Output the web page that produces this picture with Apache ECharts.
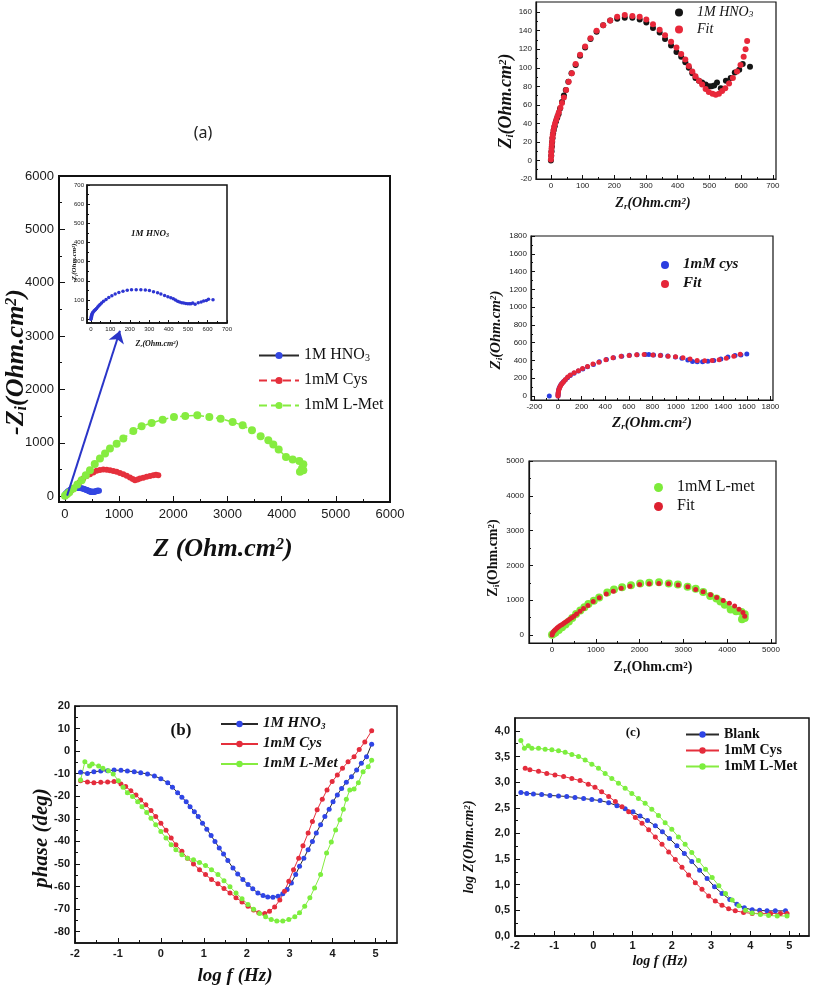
<!DOCTYPE html>
<html><head><meta charset="utf-8">
<script src="https://cdn.jsdelivr.net/npm/echarts@6/dist/echarts.min.js"></script>
<style>html,body{margin:0;padding:0;background:#fff}#c{width:813px;height:990px}</style>
</head><body><div id="c"></div>
<script>
const FS = "'Liberation Serif','Times New Roman',serif";
const FA = "'Liberation Sans',Arial,sans-serif";

// ---------------- data ----------------
const hno3Data = [[0,0],[1,5],[2,10],[3,15],[4,20],[5,24],[7,29],[9,33],[12,37],[16,42],[20,46],[24,50],[29,56],[35,63],[41,70],[47,76],[55,85],[65,94],[78,103],[92,113],[108,122],[125,131],[144,139],[165,146],[187,151],[209,153],[233,154],[257,154],[280,152],[301,149],[322,143],[343,138],[360,131],[379,124],[396,117],[411,112],[424,106],[435,100],[446,94],[456,89],[467,86],[477,84],[488,82],[498,80],[507,80],[515,81],[524,84],[536,78],[552,86],[567,89],[580,95],[594,98],[605,104],[628,101]];
const hno3Fit = [[0,1],[1,5],[1,9],[2,13],[3,17],[4,21],[5,25],[6,28],[8,32],[10,36],[13,40],[17,44],[21,48],[25,52],[30,57],[35,62],[41,68],[48,76],[56,85],[66,94],[78,104],[92,114],[108,123],[125,132],[144,140],[165,146],[187,151],[209,155],[233,157],[257,156],[280,155],[301,152],[322,147],[343,141],[360,135],[379,128],[396,122],[411,115],[424,109],[435,102],[446,96],[456,91],[467,86],[477,82],[488,77],[498,74],[510,72],[520,71],[530,72],[540,75],[550,78],[562,83],[574,89],[587,96],[598,103],[608,112],[614,120],[619,129]];
const cysMain = [[0,0],[30,20],[60,50],[90,80],[123,112],[160,150],[215,206],[270,260],[338,330],[400,375],[462,411],[525,445],[585,474],[645,490],[708,498],[770,495],[831,486],[893,472],[954,455],[1015,435],[1077,411],[1140,380],[1200,349],[1250,322],[1292,299],[1340,310],[1385,330],[1445,345],[1508,361],[1570,377],[1631,393],[1680,400],[1723,393]];
const cysData = [[-74,0],[0,0],[1,20],[2,40],[4,60],[8,82],[14,100],[22,120],[32,140],[45,160],[60,180],[80,205],[103,230],[135,255],[172,280],[210,305],[250,330],[300,355],[350,385],[410,410],[470,430],[540,448],[605,458],[670,465],[740,468],[770,466],[810,462],[870,458],[930,450],[995,438],[1050,425],[1100,405],[1140,388],[1180,385],[1225,385],[1270,390],[1320,398],[1380,415],[1440,440],[1500,455],[1550,462],[1600,472]];
const cysFit = [[0,0],[0,15],[1,30],[3,45],[5,60],[8,75],[12,90],[17,105],[23,120],[30,135],[40,150],[50,165],[63,187],[82,213],[104,235],[137,262],[173,284],[208,310],[250,333],[296,359],[346,381],[406,407],[466,430],[535,448],[603,456],[667,463],[730,467],[804,460],[867,456],[933,448],[996,441],[1059,430],[1119,415],[1179,400],[1243,396],[1306,400],[1366,407],[1426,426],[1490,448],[1544,471]];
const lmetData = [[0,6],[40,40],[80,75],[154,143],[230,220],[308,299],[385,390],[462,486],[550,600],[646,704],[740,800],[831,891],[954,984],[1077,1078],[1262,1221],[1415,1309],[1600,1371],[1803,1433],[2012,1483],[2221,1502],[2443,1514],[2665,1483],[2874,1452],[3095,1389],[3280,1327],[3452,1234],[3612,1122],[3754,1047],[3846,966],[3945,872],[4080,735],[4203,685],[4326,660],[4400,598],[4375,517],[4338,455],[4400,486]];
const lmetFit = [[0,0],[10,40],[25,80],[50,120],[80,160],[115,200],[150,235],[190,270],[230,305],[270,340],[310,375],[355,410],[400,450],[450,495],[500,540],[560,600],[640,680],[720,760],[820,850],[940,960],[1080,1070],[1240,1180],[1400,1260],[1580,1340],[1780,1400],[2000,1450],[2220,1470],[2440,1480],[2660,1470],[2880,1440],[3100,1390],[3280,1310],[3450,1240],[3620,1160],[3760,1080],[3910,990],[4050,910],[4170,830],[4270,740],[4360,650],[4400,540]];

const phaseHNO3 = [[-1.87,-9.4],[-1.71,-9.9],[-1.56,-9.1],[-1.40,-8.8],[-1.24,-8.7],[-1.09,-8.4],[-0.93,-8.5],[-0.78,-8.8],[-0.62,-9.1],[-0.47,-9.6],[-0.31,-10.1],[-0.15,-11.0],[0.0,-12.2],[0.16,-14.0],[0.27,-16.0],[0.39,-18.4],[0.49,-20.4],[0.59,-22.4],[0.68,-24.6],[0.78,-26.8],[0.87,-29.0],[0.97,-31.9],[1.07,-34.6],[1.17,-37.4],[1.26,-40.0],[1.36,-42.9],[1.46,-45.6],[1.56,-48.5],[1.68,-51.8],[1.79,-54.4],[1.91,-56.9],[2.03,-59.1],[2.14,-61.0],[2.26,-62.8],[2.38,-64.0],[2.49,-64.6],[2.61,-64.7],[2.73,-64.3],[2.84,-63.2],[2.94,-61.3],[3.04,-58.4],[3.14,-54.7],[3.23,-51.0],[3.33,-47.4],[3.43,-43.7],[3.53,-40.0],[3.62,-36.3],[3.72,-32.6],[3.82,-29.0],[3.92,-25.7],[4.01,-22.4],[4.11,-19.4],[4.21,-16.5],[4.32,-13.8],[4.44,-11.3],[4.56,-8.4],[4.67,-5.4],[4.79,-2.5],[4.91,3.1]];
const phaseCys = [[-1.87,-13.1],[-1.71,-13.7],[-1.56,-14.0],[-1.40,-13.8],[-1.24,-13.7],[-1.09,-13.5],[-0.93,-14.6],[-0.82,-15.7],[-0.70,-17.5],[-0.58,-19.4],[-0.47,-21.6],[-0.35,-23.8],[-0.23,-26.3],[-0.12,-29.0],[0.0,-31.9],[0.12,-35.1],[0.24,-38.5],[0.35,-41.5],[0.49,-44.4],[0.62,-47.4],[0.76,-50.0],[0.90,-52.5],[1.04,-54.7],[1.18,-56.9],[1.33,-58.8],[1.47,-60.9],[1.61,-62.8],[1.75,-64.9],[1.89,-66.8],[2.03,-68.7],[2.16,-70.4],[2.28,-71.6],[2.42,-71.9],[2.53,-70.9],[2.65,-69.0],[2.77,-66.0],[2.88,-62.1],[2.98,-57.6],[3.09,-52.5],[3.21,-47.4],[3.31,-41.9],[3.43,-36.3],[3.53,-31.2],[3.64,-26.0],[3.76,-21.3],[3.87,-17.2],[3.99,-13.5],[4.11,-10.6],[4.23,-7.6],[4.36,-4.7],[4.50,-2.5],[4.62,0.7],[4.75,4.1],[4.91,9.0]];
const phaseLMet = [[-1.87,-12.8],[-1.77,-4.7],[-1.66,-6.6],[-1.60,-5.7],[-1.45,-6.6],[-1.35,-7.6],[-1.22,-8.7],[-1.11,-10.1],[-0.99,-13.1],[-0.88,-16.0],[-0.78,-18.4],[-0.66,-20.1],[-0.54,-22.4],[-0.44,-24.6],[-0.33,-27.2],[-0.23,-29.7],[-0.12,-32.6],[0.0,-35.6],[0.12,-38.5],[0.24,-41.5],[0.35,-43.7],[0.49,-45.9],[0.62,-47.4],[0.76,-48.1],[0.90,-49.3],[1.04,-50.7],[1.18,-52.5],[1.33,-54.7],[1.47,-57.4],[1.61,-60.1],[1.75,-62.8],[1.89,-65.4],[2.03,-67.9],[2.16,-70.1],[2.30,-71.9],[2.44,-73.4],[2.57,-74.6],[2.70,-75.3],[2.84,-75.3],[2.98,-74.6],[3.12,-73.4],[3.23,-71.6],[3.35,-68.7],[3.47,-65.0],[3.58,-60.6],[3.72,-54.7],[3.86,-45.1],[3.97,-40.3],[4.07,-34.9],[4.17,-30.4],[4.25,-25.7],[4.32,-21.3],[4.40,-17.2],[4.50,-16.8],[4.60,-14.0],[4.71,-9.1],[4.83,-6.9],[4.91,-4.0]];

const logzBlank = [[-1.85,2.80],[-1.70,2.78],[-1.53,2.77],[-1.32,2.76],[-1.11,2.74],[-0.89,2.73],[-0.68,2.72],[-0.47,2.70],[-0.25,2.68],[-0.04,2.66],[0.17,2.64],[0.39,2.60],[0.60,2.54],[0.81,2.48],[1.01,2.42],[1.19,2.34],[1.38,2.25],[1.58,2.15],[1.76,2.03],[1.94,1.90],[2.13,1.76],[2.32,1.61],[2.51,1.45],[2.71,1.28],[2.90,1.12],[3.09,0.96],[3.28,0.83],[3.48,0.71],[3.66,0.62],[3.85,0.55],[4.05,0.51],[4.24,0.50],[4.43,0.49],[4.64,0.49],[4.90,0.49]];
const logzCys = [[-1.74,3.27],[-1.62,3.24],[-1.40,3.21],[-1.19,3.17],[-0.98,3.14],[-0.76,3.11],[-0.55,3.07],[-0.34,3.03],[-0.13,2.96],[0.04,2.90],[0.21,2.81],[0.39,2.72],[0.56,2.62],[0.73,2.52],[0.90,2.42],[1.07,2.31],[1.24,2.20],[1.41,2.07],[1.58,1.93],[1.75,1.79],[1.92,1.64],[2.09,1.49],[2.26,1.34],[2.43,1.19],[2.60,1.04],[2.77,0.91],[2.94,0.78],[3.11,0.68],[3.28,0.60],[3.45,0.53],[3.62,0.49],[3.83,0.46],[4.05,0.44],[4.26,0.44],[4.52,0.44],[4.77,0.44],[4.94,0.44]];
const logzLMet = [[-1.85,3.81],[-1.76,3.66],[-1.66,3.71],[-1.57,3.66],[-1.40,3.66],[-1.23,3.64],[-1.06,3.63],[-0.89,3.61],[-0.72,3.58],[-0.55,3.54],[-0.38,3.50],[-0.21,3.43],[-0.04,3.35],[0.13,3.27],[0.30,3.17],[0.47,3.07],[0.64,2.98],[0.81,2.88],[0.98,2.78],[1.15,2.68],[1.32,2.59],[1.49,2.47],[1.66,2.35],[1.83,2.21],[2.00,2.08],[2.17,1.93],[2.34,1.79],[2.51,1.63],[2.68,1.47],[2.86,1.30],[3.03,1.14],[3.20,0.98],[3.37,0.83],[3.54,0.70],[3.71,0.59],[3.88,0.50],[4.05,0.45],[4.26,0.42],[4.47,0.40],[4.69,0.39],[4.94,0.39]];

// ---------------- tick labels ----------------
const mainTicks = [0,1000,2000,3000,4000,5000,6000];
const insetTicks = [0,100,200,300,400,500,600,700];
const trXTicks = [0,100,200,300,400,500,600,700];
const trYTicks = [-20,0,20,40,60,80,100,120,140,160];
const mrXTicks = [-200,0,200,400,600,800,1000,1200,1400,1600,1800];
const mrYTicks = [0,200,400,600,800,1000,1200,1400,1600,1800];
const brTicks = [0,1000,2000,3000,4000,5000];
const logfTicks = [-2,-1,0,1,2,3,4,5];
const phaseTicks = [-80,-70,-60,-50,-40,-30,-20,-10,0,10,20];
const logzTicks = [0,0.5,1,1.5,2,2.5,3,3.5,4];

// ---------------- helpers ----------------
function mids(t){ const r=[]; for(let i=0;i<t.length-1;i++) r.push((t[i]+t[i+1])/2); return r; }
function rich(s, w, st){
  const base = {fontFamily:FS, fontSize:s, fontWeight:w, fontStyle:st, color:'#111', fill:'#111'};
  return {
    n: Object.assign({}, base, {lineHeight:s, padding:[Math.round(s*0.2),0,Math.round(s*0.25),0]}),
    sb: Object.assign({}, base, {fontSize:Math.round(s*0.62), lineHeight:Math.round(s*0.6), verticalAlign:'bottom'}),
    sp: Object.assign({}, base, {fontSize:Math.round(s*0.62), lineHeight:Math.round(s*0.6), verticalAlign:'top'}),
    g: {width: 9}
  };
}
const xAxes=[], yAxes=[];
function addAxis(list, grid, pos, c){
  const common = {type:'value', gridIndex:grid, position:pos, min:c.min, max:c.max,
    splitLine:{show:false}, axisPointer:{show:false}, silent:true};
  list.push(Object.assign({}, common, {
    axisLine:{show:true, onZero:false, lineStyle:{color:'#111', width:c.lw}},
    axisTick:{show:true, inside:true, length:c.tl, customValues:c.ticks, lineStyle:{color:'#111', width:1}},
    axisLabel:{show:true, customValues:c.ticks, margin:c.margin, fontSize:c.fs, fontFamily:FA,
      fontWeight:c.fw||'normal', color:'#1a1a1a', formatter:c.fmt||(v=>String(v))}
  }));
  list.push(Object.assign({}, common, {
    axisLine:{show:false, onZero:false},
    axisTick:{show:true, inside:true, length:Math.max(2,Math.round(c.tl*0.55)), customValues:c.minor, lineStyle:{color:'#111', width:1}},
    axisLabel:{show:false}
  }));
}
const grids = [
  {left:59, top:176, width:331, height:326, borderWidth:2},
  {left:87, top:185, width:140, height:138, borderWidth:1.5},
  {left:536, top:2, width:240, height:177, borderWidth:1.2},
  {left:531, top:236, width:242, height:164, borderWidth:1.2},
  {left:529, top:461, width:247, height:182, borderWidth:1.2},
  {left:75, top:706, width:322, height:237, borderWidth:1.5},
  {left:515, top:718, width:294, height:218, borderWidth:1.5}
].map(g => Object.assign({show:true, borderColor:'#111', backgroundColor:'#fff', containLabel:false, outerBoundsMode:'none'}, g));

// main
addAxis(xAxes,0,'bottom',{min:-110,max:6000,ticks:mainTicks,minor:mids(mainTicks),lw:2,tl:6,margin:6,fs:13});
addAxis(yAxes,0,'left',{min:-110,max:6000,ticks:mainTicks,minor:mids(mainTicks),lw:2,tl:6,margin:5,fs:13});
// inset
addAxis(xAxes,1,'bottom',{min:-20,max:700,ticks:insetTicks,minor:mids(insetTicks),lw:1.5,tl:3,margin:3,fs:6});
addAxis(yAxes,1,'left',{min:-20,max:700,ticks:insetTicks,minor:mids(insetTicks),lw:1.5,tl:3,margin:3,fs:6});
// top right
addAxis(xAxes,2,'bottom',{min:-47,max:710,ticks:trXTicks,minor:mids(trXTicks),lw:1.2,tl:4,margin:3,fs:8});
addAxis(yAxes,2,'left',{min:-20,max:171,ticks:trYTicks,minor:mids(trYTicks),lw:1.2,tl:4,margin:4,fs:8});
// middle right
addAxis(xAxes,3,'bottom',{min:-229,max:1822,ticks:mrXTicks,minor:mids(mrXTicks),lw:1.2,tl:4,margin:3,fs:8});
addAxis(yAxes,3,'left',{min:-45,max:1800,ticks:mrYTicks,minor:mids(mrYTicks),lw:1.2,tl:4,margin:4,fs:8});
// bottom right
addAxis(xAxes,4,'bottom',{min:-525,max:5114,ticks:brTicks,minor:mids(brTicks),lw:1.2,tl:4,margin:3,fs:8});
addAxis(yAxes,4,'left',{min:-230,max:5000,ticks:brTicks,minor:mids(brTicks),lw:1.2,tl:4,margin:5,fs:8});
// phase
addAxis(xAxes,5,'bottom',{min:-2,max:5.5,ticks:logfTicks,minor:mids(logfTicks).concat([5.25]),lw:1.5,tl:5,margin:5,fs:11,fw:'bold'});
addAxis(yAxes,5,'left',{min:-85,max:20,ticks:phaseTicks,minor:mids(phaseTicks),lw:1.5,tl:5,margin:5,fs:11,fw:'bold'});
// log Z
addAxis(xAxes,6,'bottom',{min:-2,max:5.5,ticks:logfTicks,minor:mids(logfTicks).concat([5.25]),lw:1.5,tl:5,margin:4,fs:11,fw:'bold'});
addAxis(yAxes,6,'left',{min:0,max:4.25,ticks:logzTicks,minor:mids(logzTicks),lw:1.5,tl:5,margin:5,fs:11,fw:'bold',
  fmt:v=>v.toFixed(1).replace('.',',')});

const BLUE='#3447e2', RED='#e5303c', GREEN='#86ec40', BLACK='#151515', DARK='#2a2a2a';
function A(g){ return {xAxisIndex:2*g, yAxisIndex:2*g}; }
function lineS(name,g,data,color,lineColor,size,ltype,lw){
  return Object.assign({name, type:'line', data, symbol:'circle', symbolSize:size, showSymbol:true,
    itemStyle:{color}, lineStyle:{color:lineColor, width:lw||1, type:ltype||'solid'}, z:3}, A(g));
}
function scat(name,g,data,color,size){
  return Object.assign({name, type:'scatter', data, symbol:'circle', symbolSize:size, itemStyle:{color, opacity:1}, z:3}, A(g));
}
const series = [
  Object.assign(lineS('mHNO3',0,hno3Data,BLUE,DARK,6,'solid',1), {
    markLine:{silent:true, symbol:['none','arrow'], symbolSize:12, animation:false,
      lineStyle:{color:'#2a35c8', width:2, type:'solid'}, label:{show:false},
      data:[[{coord:[40,10]},{coord:[1015,3100]}]]}}),
  lineS('mCys',0,cysMain,RED,RED,6,'dashed',1.2),
  lineS('mLMet',0,lmetData,GREEN,GREEN,8,'dashed',1.5),
  scat('iHNO3',1,hno3Data,'#2d35d2',3.5),
  scat('tHNO3',2,hno3Data,BLACK,6),
  scat('tFit',2,hno3Fit,'#e8283a',6),
  scat('cCys',3,cysData,'#2b3de0',5),
  scat('cFit',3,cysFit,'#e5263a',5),
  scat('lLMet',4,lmetData,'#7deb3a',8),
  scat('lFit',4,lmetFit,'#dd2030',5),
  lineS('pH',5,phaseHNO3,'#2f45e6',DARK,5),
  lineS('pC',5,phaseCys,'#e42c3c',RED,5),
  lineS('pL',5,phaseLMet,'#7cee3e',GREEN,5),
  lineS('zB',6,logzBlank,'#2f45e6',DARK,5),
  lineS('zC',6,logzCys,'#e42c3c',RED,5),
  lineS('zL',6,logzLMet,'#7cee3e',GREEN,5)
];

const LBL = {
  mHNO3:'{n|1M HNO}{sb|3}', mCys:'{n|1mM Cys}', mLMet:'{n|1mM L-Met}',
  tHNO3:'{g|}{n|1M HNO}{sb|3}', tFit:'{g|}{n|Fit}',
  cCys:'{g|}{n|1mM cys}', cFit:'{g|}{n|Fit}',
  lLMet:'{g|}{n|1mM L-met}', lFit:'{g|}{n|Fit}',
  pH:'{n|1M HNO}{sb|3}', pC:'{n|1mM Cys}', pL:'{n|1mM L-Met}',
  zB:'{n|Blank}', zC:'{n|1mM Cys}', zL:'{n|1mM L-Met}'
};
function leg(names, left, top, iw, ih, gap, size, w, st){
  return {show:true, orient:'vertical', left, top, itemWidth:iw, itemHeight:ih, itemGap:gap, padding:0,
    selectedMode:false, data:names, formatter:n=>LBL[n],
    textStyle:{fontFamily:FS, fontSize:size, fontWeight:w, fontStyle:st, color:'#111', rich:rich(size,w,st)}};
}
const legends = [
  leg(['mHNO3','mCys','mLMet'],258,344,40,9,2,16,'normal','normal'),
  leg(['tHNO3','tFit'],675,2,8,8,-4,14,'normal','italic'),
  leg(['cCys','cFit'],661,254,8,8,-3,15,'bold','italic'),
  leg(['lLMet','lFit'],654,476,9,9,-4,16,'normal','normal'),
  leg(['pH','pC','pL'],220,713,37,8,-2,15,'bold','italic'),
  leg(['zB','zC','zL'],685,724,33,8,-5,14,'bold','normal')
];

function T(x,y,text,s,w,st,rot){
  return {type:'text', x, y, rotation:rot||0, silent:true, z:100,
    style:{text, align:'center', verticalAlign:'middle', fontFamily:FS, fontSize:s, fontWeight:w, fontStyle:st,
      fill:'#111', rich:rich(s,w,st)}};
}
const R90 = Math.PI/2;
const graphics = [
  {type:'text', x:203, y:133, silent:true, style:{text:'(a)', align:'center', verticalAlign:'middle', fontFamily:"'Noto Sans','Open Sans',sans-serif", fontSize:16, fill:'#222'}},
  T(223,550,'{n|Z (Ohm.cm}{sp|2}{n|)}',26,'bold','italic'),
  T(17,362,'{n|-Z}{sb|i}{n|(Ohm.cm}{sp|2}{n|)}',26,'bold','italic',R90),
  T(150,234,'{n|1M HNO}{sb|3}',9,'bold','italic'),
  T(75,263,'{n|-Z}{sb|i}{n|(Ohm.cm}{sp|2}{n|)}',7,'bold','italic',R90),
  T(157,344,'{n|Z}{sb|r}{n|(Ohm.cm}{sp|2}{n|)}',8,'bold','italic'),
  T(507,101,'{n|Z}{sb|i}{n|(Ohm.cm}{sp|2}{n|)}',18,'bold','italic',R90),
  T(653,204,'{n|Z}{sb|r}{n|(Ohm.cm}{sp|2}{n|)}',14,'bold','italic'),
  T(497,330,'{n|Z}{sb|i}{n|(Ohm.cm}{sp|2}{n|)}',15,'bold','italic',R90),
  T(652,424,'{n|Z}{sb|r}{n|(Ohm.cm}{sp|2}{n|)}',15,'bold','italic'),
  T(494,558,'{n|Z}{sb|i}{n|(Ohm.cm}{sp|2}{n|)}',14,'bold','normal',R90),
  T(653,668,'{n|Z}{sb|r}{n|(Ohm.cm}{sp|2}{n|)}',14,'bold','normal'),
  T(181,731,'{n|(b)}',17,'bold','normal'),
  T(42,838,'{n|phase (deg)}',21,'bold','italic',R90),
  T(235,977,'{n|log f (Hz)}',19,'bold','italic'),
  T(633,733,'{n|(c)}',13,'bold','normal'),
  T(470,847,'{n|log Z(Ohm.cm}{sp|2}{n|)}',14,'bold','italic',R90),
  T(660,962,'{n|log f (Hz)}',14,'bold','italic')
];

const chart = echarts.init(document.getElementById('c'), null, {renderer:'canvas'});
chart.setOption({
  animation:false, backgroundColor:'#fff',
  grid:grids, xAxis:xAxes, yAxis:yAxes, series, legend:legends, graphic:graphics, tooltip:{show:false}
});
</script></body></html>
